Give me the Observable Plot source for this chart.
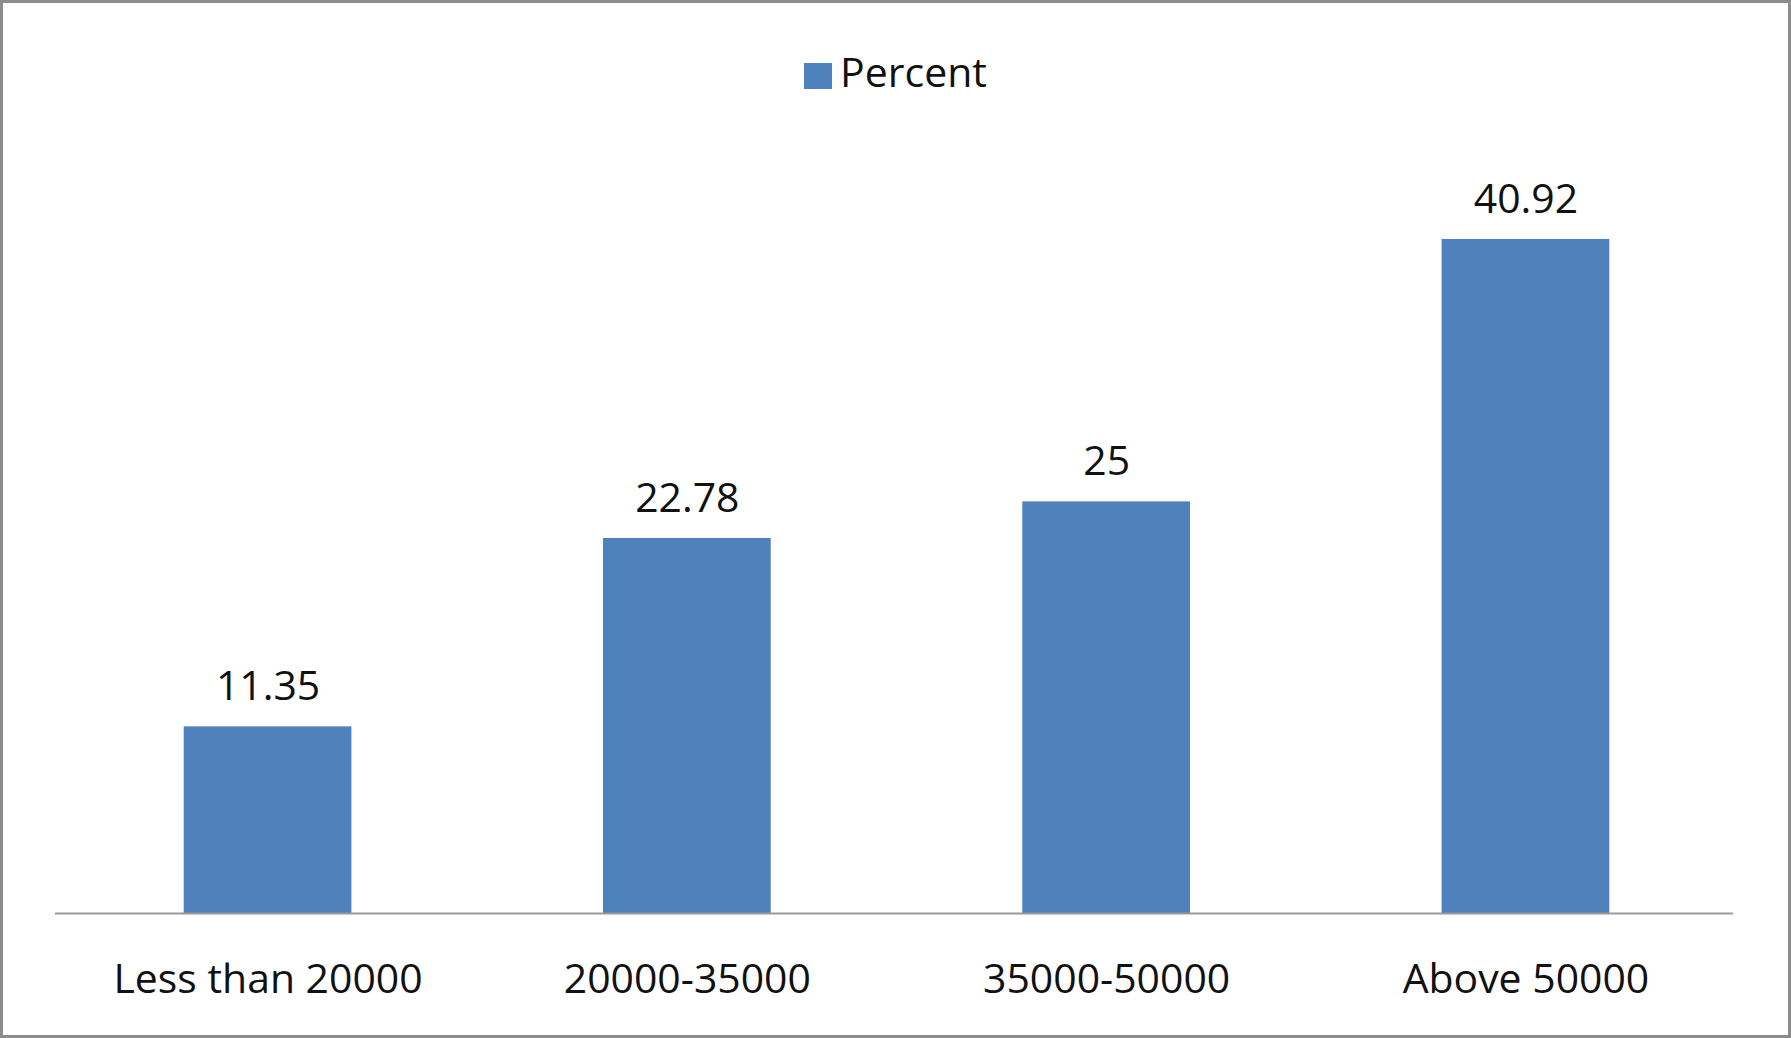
<!DOCTYPE html>
<html>
<head>
<meta charset="utf-8">
<script src="https://cdn.jsdelivr.net/npm/d3@7"></script>
<script src="https://cdn.jsdelivr.net/npm/@observablehq/plot@0.6"></script>
<style>
  body { margin: 0; background: #fff; }
  #wrap { position: relative; width: 1791px; height: 1038px; box-sizing: border-box; border: 3px solid #8c8c8c; overflow: hidden; }
  #chart { position: absolute; left: -3px; top: -3px; }
  #legend { position: absolute; top: 40px; left: 0; width: 100%; text-align: center; font: 41px "Open Sans", sans-serif; color: #111; }
  #legend span.sw { display: inline-block; width: 28px; height: 26px; background: #4f81bd; margin-right: 8px; vertical-align: -2px; }
</style>
</head>
<body>
<div id="wrap">
  <div id="legend"><span class="sw"></span>Percent</div>
  <div id="chart"></div>
</div>
<script>
const categories = ["Less than 20000", "20000-35000", "35000-50000", "Above 50000"];
const percents = [11.35, 22.78, 25, 40.92];
const labels = ["11.35", "22.78", "25", "40.92"];

const data = categories.map((c, i) => ({cat: c, val: percents[i], label: labels[i]}));

const chart = Plot.plot({
  width: 1791,
  height: 1038,
  marginTop: 172,
  marginBottom: 123,
  marginLeft: 58,
  marginRight: 53,
  style: {fontFamily: "'Open Sans', sans-serif", fontSize: "41px", color: "#111", background: "transparent"},
  x: {domain: categories, paddingInner: 0.6, paddingOuter: 0.3, label: null, tickSize: 0, tickPadding: 50},
  y: {domain: [0, 45], axis: null},
  marks: [
    Plot.barY(data, {x: "cat", y: "val", fill: "#4f81bd"}),
    Plot.text(data, {x: "cat", y: "val", text: "label", dy: -40, fontSize: 41, fill: "#111"})
  ]
});
// baseline spanning the plot width
d3.select(chart).append("line")
  .attr("x1", 55).attr("x2", 1736).attr("y1", 915).attr("y2", 915)
  .attr("stroke", "#999").attr("stroke-width", 2);
d3.select('#chart').append(() => chart);
</script>
</body>
</html>
